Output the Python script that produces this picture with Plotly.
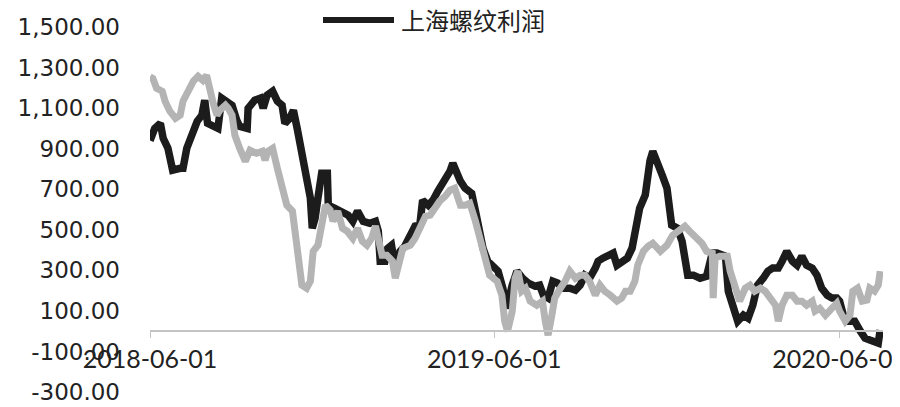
import plotly.graph_objects as go

# 上海螺纹利润 (black series)
black_dates = [
    "2018-06-01", "2018-06-03", "2018-06-06", "2018-06-12", "2018-06-15", "2018-06-20", "2018-06-25",
    "2018-07-03", "2018-07-06", "2018-07-10", "2018-07-16", "2018-07-21", "2018-07-26", "2018-07-29",
    "2018-08-01", "2018-08-09", "2018-08-12", "2018-08-16", "2018-08-23", "2018-08-27", "2018-09-01",
    "2018-09-04", "2018-09-12", "2018-09-13", "2018-09-20", "2018-09-26", "2018-09-29", "2018-10-03",
    "2018-10-09", "2018-10-14", "2018-10-19", "2018-10-22", "2018-10-27", "2018-10-31", "2018-11-04",
    "2018-11-09", "2018-11-14", "2018-11-18", "2018-11-20", "2018-11-23", "2018-11-26", "2018-11-30",
    "2018-12-06", "2018-12-07", "2018-12-14", "2018-12-23", "2018-12-28", "2019-01-02", "2019-01-07",
    "2019-01-13", "2019-01-20", "2019-01-26", "2019-01-29", "2019-01-31", "2019-02-05", "2019-02-08",
    "2019-02-12", "2019-02-16", "2019-02-21", "2019-02-26", "2019-03-04", "2019-03-09", "2019-03-14",
    "2019-03-17", "2019-03-23", "2019-03-28", "2019-04-02", "2019-04-08", "2019-04-12", "2019-04-15",
    "2019-04-18", "2019-04-22", "2019-04-26", "2019-05-01", "2019-05-08", "2019-05-12", "2019-05-15",
    "2019-05-20", "2019-05-25", "2019-05-31", "2019-06-05", "2019-06-10", "2019-06-14", "2019-06-20",
    "2019-06-25", "2019-07-01", "2019-07-07", "2019-07-14", "2019-07-19", "2019-07-23", "2019-07-28",
    "2019-08-02", "2019-08-07", "2019-08-13", "2019-08-20", "2019-08-26", "2019-08-31", "2019-09-05",
    "2019-09-10", "2019-09-16", "2019-09-19", "2019-09-24", "2019-09-29", "2019-10-05", "2019-10-09",
    "2019-10-14", "2019-10-20", "2019-10-25", "2019-10-28", "2019-11-02", "2019-11-08", "2019-11-11",
    "2019-11-13", "2019-11-16", "2019-11-21", "2019-11-26", "2019-12-01", "2019-12-04", "2019-12-06",
    "2019-12-12", "2019-12-17", "2019-12-20", "2019-12-23", "2019-12-29", "2020-01-05", "2020-01-12",
    "2020-01-18", "2020-01-23", "2020-02-01", "2020-02-04", "2020-02-09", "2020-02-14", "2020-02-20",
    "2020-02-25", "2020-03-01", "2020-03-06", "2020-03-12", "2020-03-17", "2020-03-22", "2020-03-28",
    "2020-04-01", "2020-04-06", "2020-04-12", "2020-04-17", "2020-04-22", "2020-04-27", "2020-05-03",
    "2020-05-08", "2020-05-13", "2020-05-19", "2020-05-24", "2020-05-29", "2020-06-01", "2020-06-05",
    "2020-06-10", "2020-06-17", "2020-06-23", "2020-06-28", "2020-07-03", "2020-07-08", "2020-07-12",
    "2020-07-14",
]
black_values = [
    940, 961, 1000, 1025, 951, 902, 794,
    803, 803, 902, 976, 1035, 1065, 1139,
    1025, 1010, 1000, 1149, 1124, 1114, 1040,
    1010, 1000, 1099, 1139, 1149, 1099, 1163,
    1183, 1134, 1114, 1025, 1050, 1089, 1000,
    887, 769, 656, 508, 557, 656, 779,
    779, 621, 606, 582, 572, 542, 592,
    542, 532, 542, 493, 345, 345, 409,
    424, 311, 394, 419, 473, 518, 523,
    646, 621, 646, 690, 730, 764, 789,
    828, 769, 740, 705, 680, 592, 508,
    409, 345, 311, 296, 212, 113, 227,
    296, 261, 237, 222, 227, 177, 163,
    246, 237, 212, 212, 202, 227, 276,
    261, 311, 345, 360, 370, 385, 325,
    345, 360, 409, 473, 606, 671, 789,
    840, 887, 838, 769, 705, 621, 523,
    508, 444, 360, 276, 276, 261, 271,
    385, 385, 370, 197, 128, 49, 79,
    64, 128, 227, 261, 296, 311, 311,
    345, 394, 345, 325, 370, 325, 311,
    276, 212, 177, 163, 163, 148, 79,
    49, 49, 0, -35, -44, -49, -59,
    5,
]

# gray series
gray_dates = [
    "2018-06-01", "2018-06-04", "2018-06-08", "2018-06-14", "2018-06-17", "2018-06-22", "2018-06-28",
    "2018-07-03", "2018-07-06", "2018-07-11", "2018-07-17", "2018-07-22", "2018-07-27", "2018-07-31",
    "2018-08-04", "2018-08-07", "2018-08-11", "2018-08-14", "2018-08-20", "2018-08-23", "2018-08-27",
    "2018-08-30", "2018-09-04", "2018-09-10", "2018-09-15", "2018-09-22", "2018-09-28", "2018-10-01",
    "2018-10-04", "2018-10-09", "2018-10-14", "2018-10-19", "2018-10-24", "2018-10-30", "2018-11-02",
    "2018-11-05", "2018-11-09", "2018-11-14", "2018-11-18", "2018-11-21", "2018-11-26", "2018-11-30",
    "2018-12-04", "2018-12-09", "2018-12-12", "2018-12-17", "2018-12-22", "2018-12-27", "2019-01-02",
    "2019-01-07", "2019-01-12", "2019-01-17", "2019-01-22", "2019-01-26", "2019-01-29", "2019-02-02",
    "2019-02-07", "2019-02-13", "2019-02-16", "2019-02-19", "2019-02-24", "2019-03-04", "2019-03-09",
    "2019-03-14", "2019-03-20", "2019-03-25", "2019-03-30", "2019-04-04", "2019-04-10", "2019-04-15",
    "2019-04-20", "2019-04-26", "2019-05-01", "2019-05-06", "2019-05-12", "2019-05-17", "2019-05-22",
    "2019-05-27", "2019-06-04", "2019-06-09", "2019-06-12", "2019-06-15", "2019-06-20", "2019-06-23",
    "2019-06-26", "2019-06-30", "2019-07-04", "2019-07-09", "2019-07-16", "2019-07-22", "2019-07-25",
    "2019-07-28", "2019-08-01", "2019-08-04", "2019-08-10", "2019-08-15", "2019-08-20", "2019-08-26",
    "2019-08-31", "2019-09-05", "2019-09-10", "2019-09-16", "2019-09-21", "2019-09-26", "2019-10-02",
    "2019-10-09", "2019-10-14", "2019-10-18", "2019-10-23", "2019-10-28", "2019-10-31", "2019-11-06",
    "2019-11-11", "2019-11-16", "2019-11-24", "2019-12-01", "2019-12-07", "2019-12-15", "2019-12-20",
    "2019-12-25", "2020-01-02", "2020-01-07", "2020-01-12", "2020-01-18", "2020-01-19", "2020-01-21",
    "2020-01-26", "2020-02-03", "2020-02-06", "2020-02-11", "2020-02-16", "2020-02-22", "2020-02-27",
    "2020-03-03", "2020-03-09", "2020-03-14", "2020-03-19", "2020-03-25", "2020-03-28", "2020-04-01",
    "2020-04-06", "2020-04-12", "2020-04-17", "2020-04-22", "2020-04-27", "2020-05-03", "2020-05-06",
    "2020-05-11", "2020-05-17", "2020-05-22", "2020-05-29", "2020-06-01", "2020-06-07", "2020-06-12",
    "2020-06-15", "2020-06-20", "2020-06-25", "2020-06-30", "2020-07-03", "2020-07-08", "2020-07-12",
    "2020-07-14",
]
gray_values = [
    1255, 1247, 1198, 1183, 1134, 1085, 1050,
    1065, 1134, 1188, 1233, 1257, 1237, 1262,
    1163, 1124, 1065, 1089, 1114, 1099, 1065,
    966, 902, 838, 892, 877, 887, 843,
    887, 902, 803, 720, 621, 592, 473,
    360, 227, 212, 246, 394, 424, 523,
    621, 597, 542, 592, 508, 493, 458,
    508, 444, 424, 458, 518, 458, 375,
    375, 345, 261, 325, 409, 424, 458,
    508, 567, 572, 606, 641, 666, 695,
    705, 621, 621, 631, 542, 444, 345,
    276, 246, 177, 49, 0, 99, 261,
    296, 197, 212, 148, 128, 148, 49,
    -20, 79, 163, 212, 246, 296, 261,
    276, 276, 246, 177, 227, 197, 177,
    148, 163, 197, 197, 246, 325, 394,
    419, 434, 394, 424, 473, 498, 518,
    493, 458, 434, 394, 385, 163, 360,
    370, 370, 296, 212, 148, 212, 227,
    197, 212, 197, 163, 128, 49, 128,
    177, 177, 148, 148, 128, 148, 99,
    113, 79, 104, 138, 99, 49, 79,
    197, 212, 148, 153, 212, 197, 227,
    296,
]

y_ticks = [-300, -100, 100, 300, 500, 700, 900, 1100, 1300, 1500]
y_ticktext = [f"{v:,.2f}" for v in y_ticks]
x_ticks = ["2018-06-01", "2019-06-01", "2020-06-01"]
x_ticktext = ["2018-06-01", "2019-06-01", "2020-06-01"]
legend_name = "上海螺纹利润"

BLACK = "#1c1c1c"
GRAY = "#b4b4b4"

fig = go.Figure()
fig.add_trace(go.Scatter(
    x=black_dates, y=black_values, mode="lines", name=legend_name,
    line=dict(color=BLACK, width=7.5), showlegend=False,
))
fig.add_trace(go.Scatter(
    x=gray_dates, y=gray_values, mode="lines", name="gray",
    line=dict(color=GRAY, width=7), showlegend=False,
))

# legend drawn as a line sample plus a text label
fig.add_shape(type="line", xref="paper", yref="paper",
              x0=(323 - 150) / 733, x1=(394 - 150) / 733,
              y0=1 + 7 / 365, y1=1 + 7 / 365,
              line=dict(color=BLACK, width=6))
fig.add_annotation(text=legend_name, xref="paper", yref="paper",
                   x=(400 - 150) / 733, y=1 + 7 / 365, xanchor="left", yanchor="middle",
                   showarrow=False, borderpad=0,
                   font=dict(family="Noto Sans CJK SC", size=24, color="#222222"))

fig.update_layout(
    width=900, height=407,
    margin=dict(l=142, r=25, t=19, b=23, autoexpand=False),
    paper_bgcolor="white", plot_bgcolor="white",
    showlegend=False,
    xaxis=dict(
        type="date", range=["2018-06-01", "2020-07-17"],
        anchor="free", position=300 / 1800,
        showline=True, linecolor="#c4c4c4", linewidth=1.5,
        ticks="outside", ticklen=6, tickcolor="#c4c4c4", tickwidth=1.2,
        tickvals=x_ticks, ticktext=x_ticktext, ticklabeloverflow="allow",
        tickfont=dict(family="Lato", size=25, color="#222222"),
        showgrid=False, zeroline=False,
    ),
    yaxis=dict(
        range=[-300, 1500], tickvals=y_ticks, ticktext=y_ticktext,
        tickfont=dict(family="DejaVu Sans", size=23, color="#222222"),
        showgrid=False, zeroline=False, showline=False,
        ticks="", ticklabelstandoff=29,
    ),
)

fig.write_html("out.html")
